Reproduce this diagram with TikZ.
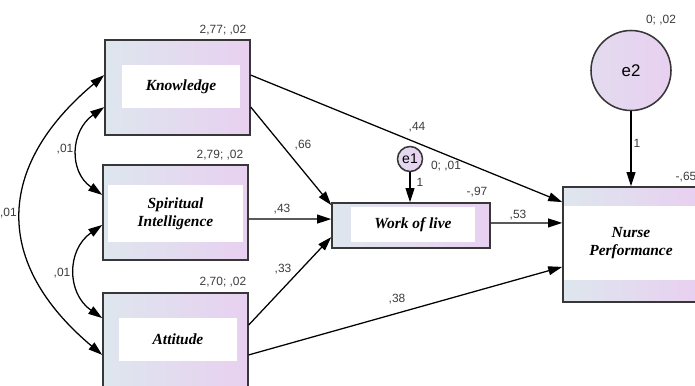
\documentclass[tikz,border=0pt]{standalone}
\usepackage{fontspec}
\setmainfont{Liberation Serif}
\newfontfamily\numfont{Liberation Sans}
\usetikzlibrary{arrows.meta,calc}
\definecolor{boxleft}{RGB}{222,230,238}
\definecolor{boxright}{RGB}{232,208,240}
\definecolor{numgray}{RGB}{60,60,60}
\definecolor{edge}{RGB}{55,55,55}

\begin{document}
\begin{tikzpicture}[x=0.25mm, y=0.25mm,
  box/.style={draw=edge, line width=1.1pt, left color=boxleft, right color=boxright, inner sep=0pt},
  lab/.style={fill=white, inner sep=0pt, font=\fontsize{11}{13}\selectfont\bfseries\itshape, align=center},
  err/.style={circle, draw=edge, line width=1.1pt, left color=boxleft!50!boxright, right color=boxright, inner sep=0pt, font=\numfont},
  num/.style={font=\numfont\fontsize{8.5}{10}\selectfont, text=numgray, inner sep=0pt},
  arrow/.style={-{Triangle[length=3.5mm,width=2.2mm]}, line width=0.9pt},
  cov/.style={{Triangle[length=3.5mm,width=2.2mm]}-{Triangle[length=3.5mm,width=2.2mm]}, line width=0.9pt}
]
\useasboundingbox (0,0) rectangle (695,-385);

% observed variables
\node[box, minimum width=36.25mm, minimum height=23.75mm] (know) at (177.5,-87.5) {};
\node[lab, minimum width=29.5mm, minimum height=10.75mm] (knowtxt) at (181,-86.5) {Knowledge};
\node[box, minimum width=36.25mm, minimum height=23.75mm] (spirit) at (175.5,-212.5) {};
\node[lab, minimum width=33.75mm, minimum height=14.25mm] (spirittxt) at (175.5,-213.5) {Spiritual\\Intelligence};
\node[box, minimum width=36.25mm, minimum height=23.75mm] (att) at (175.5,-340.5) {};
\node[lab, minimum width=29.5mm, minimum height=10.75mm] (atttxt) at (178,-339.5) {Attitude};
\node[box, minimum width=39.5mm, minimum height=11.25mm] (work) at (411,-225.5) {};
\node[lab, minimum width=31mm, minimum height=8.75mm] (worktxt) at (413,-224.5) {Work of live};
\node[box, minimum width=34mm, minimum height=28.75mm] (nurse) at (631,-244.5) {};
\node[lab, minimum width=33.5mm, minimum height=18.5mm] (nursetxt) at (631,-243) {Nurse\\Performance};

% error terms
\node[err, minimum size=6.25mm, font=\numfont\fontsize{10}{12}\selectfont] (e1) at (410,-159) {e1};
\node[err, minimum size=20mm, font=\numfont\fontsize{12}{14}\selectfont] (e2) at (631,-70.5) {e2};

% estimates
\node[num] (mknow) at (223,-30) {2,77; ,02};
\node[num] (mspirit) at (220,-155) {2,79; ,02};
\node[num] (matt) at (223,-282) {2,70; ,02};
\node[num] (me1) at (446,-166) {0; ,01};
\node[num] (me2) at (661,-20) {0; ,02};
\node[num] (mwork) at (477,-192) {-,97};
\node[num] (mnurse) at (686,-177) {-,65};
\node[num] (wkw) at (303,-145) {,66};
\node[num] (wkn) at (417,-127) {,44};
\node[num] (wsw) at (282,-209) {,43};
\node[num] (waw) at (283,-269) {,33};
\node[num] (wan) at (397,-299) {,38};
\node[num] (wwn) at (518,-215) {,53};
\node[num] (we1) at (420,-182) {1};
\node[num] (we2) at (637,-143) {1};
\node[num] (cks) at (65,-149) {,01};
\node[num] (csa) at (62,-273) {,01};
\node[num, anchor=east] (cka) at (17,-213) {,01};

% paths
\draw[arrow] ([yshift=3.1mm]know.east) -- ([yshift=10.6mm]nurse.west);
\draw[arrow] ([yshift=-4.9mm]know.east) -- ([yshift=5.1mm]work.west);
\draw[arrow] ([yshift=-1.6mm]spirit.east) -- ([yshift=1.6mm]work.west);
\draw[arrow] ([yshift=3.9mm]att.east) -- ([yshift=-2.9mm]work.west);
\draw[arrow] ([yshift=-3.6mm]att.east) -- ([yshift=-5.6mm]nurse.west);
\draw[arrow] ([yshift=0.6mm]work.east) -- ([yshift=5.4mm]nurse.west);
\draw[arrow] (e1) -- (e1 |- work.north);
\draw[arrow] (e2) -- (e2 |- nurse.north);

% covariances
\draw[cov] ([yshift=3.1mm]know.west) to[out=220, in=140, looseness=1.3] ([yshift=-3.6mm]att.west);
\draw[cov] ([yshift=-4.9mm]know.west) to[out=215, in=145, looseness=1.2] ([yshift=4.4mm]spirit.west);
\draw[cov] ([yshift=-3.1mm]spirit.west) to[out=215, in=145, looseness=1.2] ([yshift=5.6mm]att.west);

\end{tikzpicture}
\end{document}
